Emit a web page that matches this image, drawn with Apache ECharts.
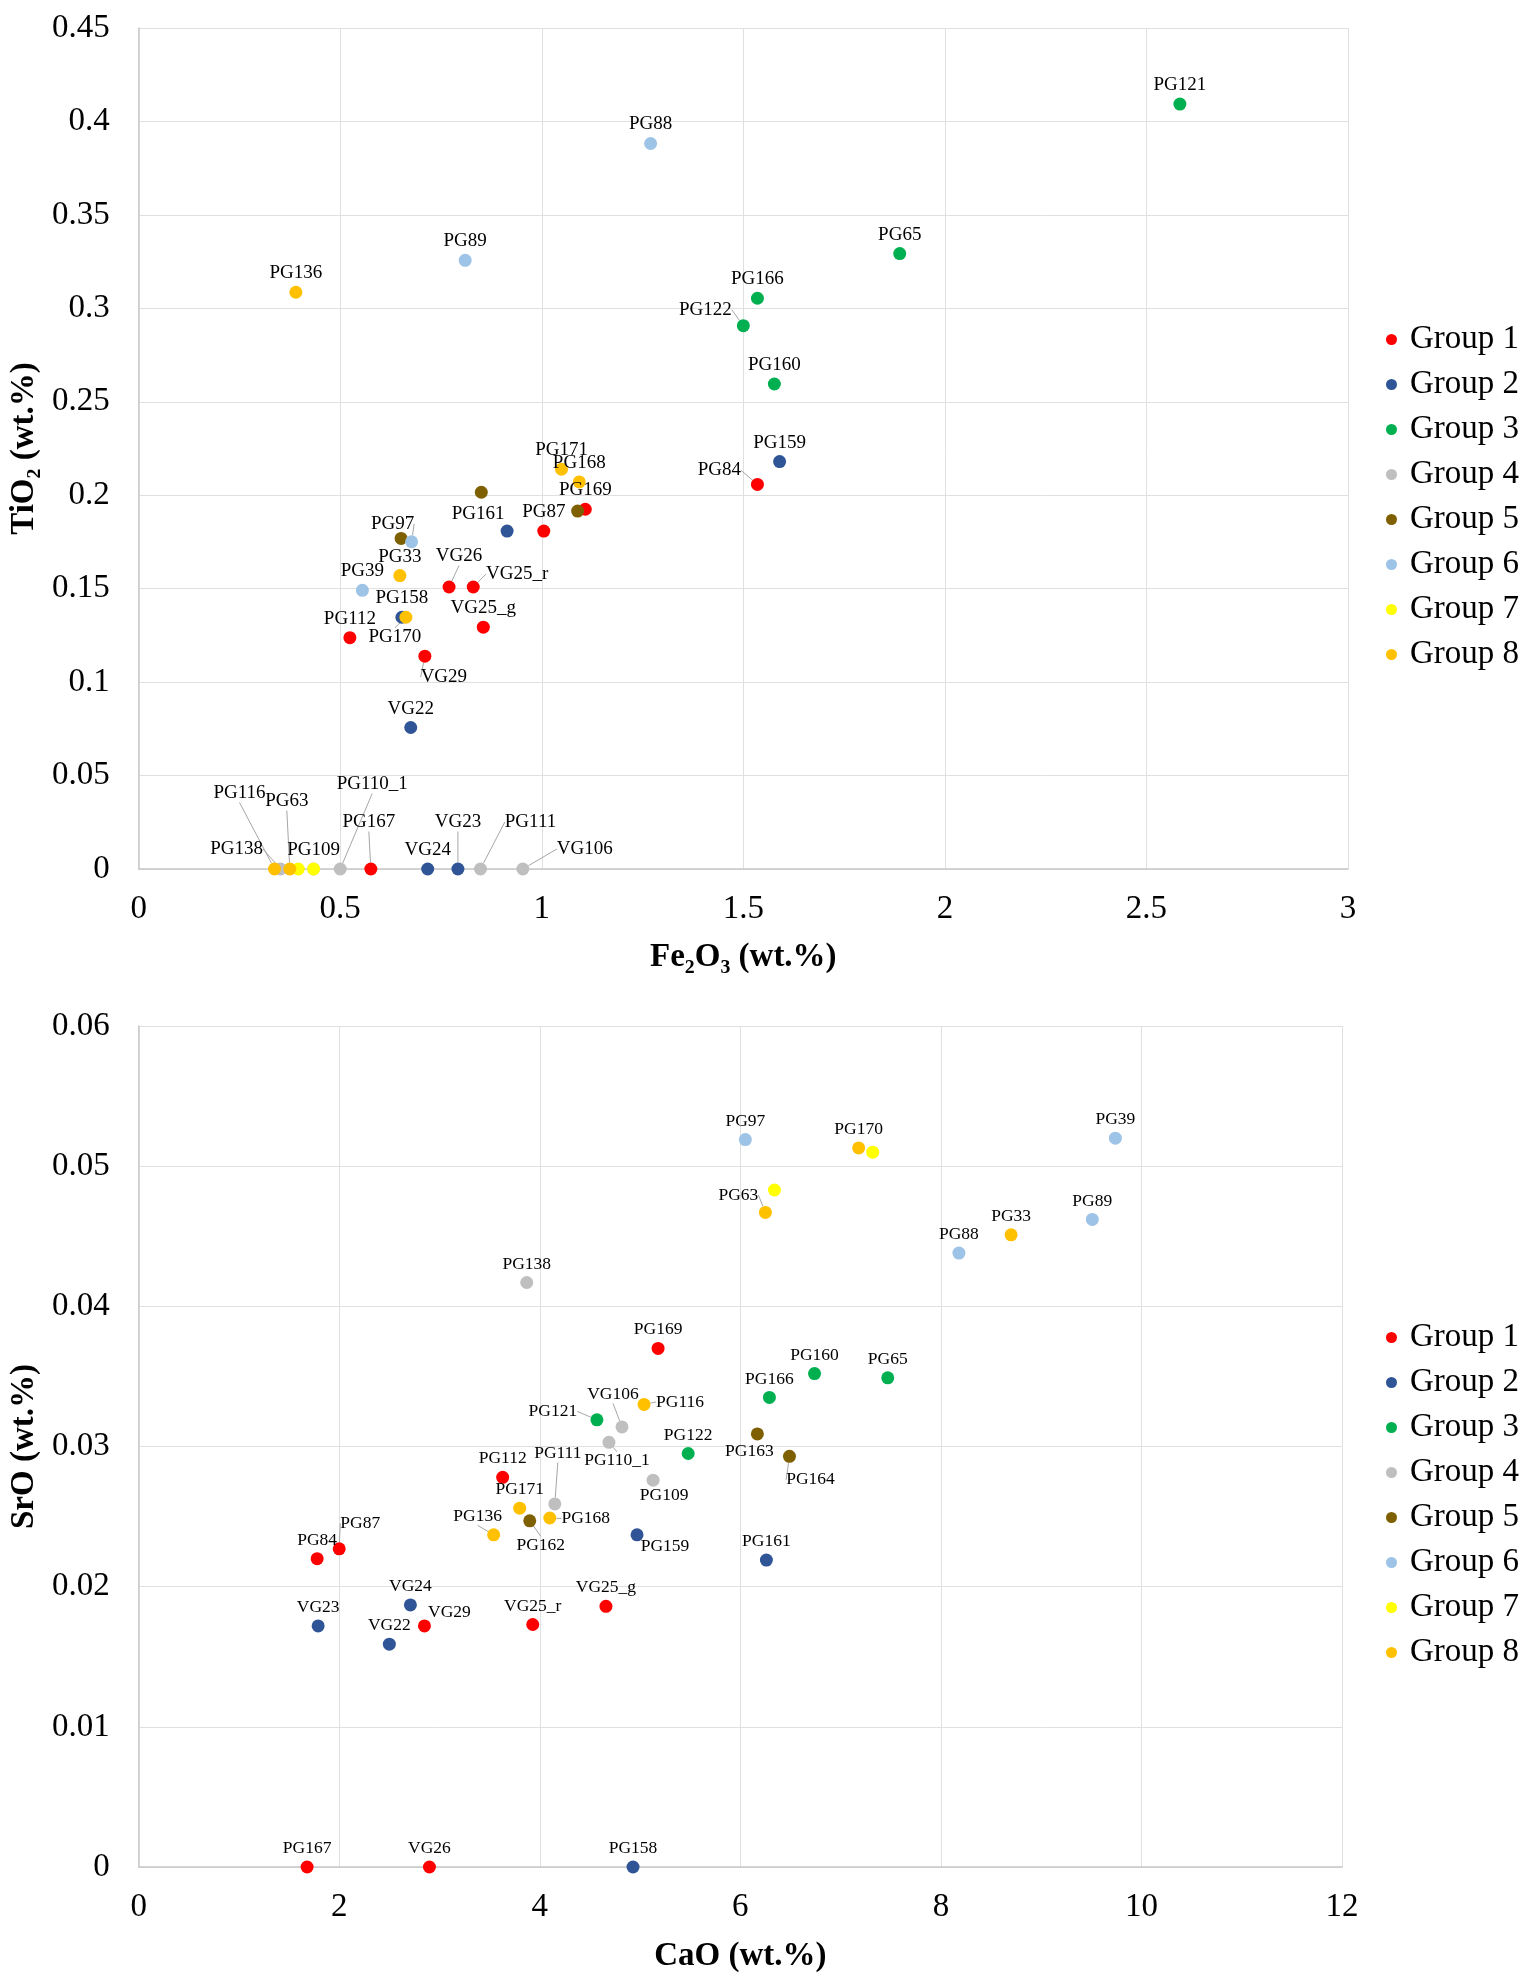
<!DOCTYPE html>
<html>
<head>
<meta charset="utf-8">
<title>Fe2O3-TiO2 / CaO-SrO</title>
<script src="https://cdn.jsdelivr.net/npm/echarts@6/dist/echarts.min.js"></script>
<style>
    html, body { margin: 0; padding: 0; background: #fff; }
    #chart { width: 1534px; height: 1983px; }
</style>
</head>
<body>
<div id="chart"></div>
<script>
// 分组
let groups = ['Group 1', 'Group 2', 'Group 3', 'Group 4', 'Group 5', 'Group 6', 'Group 7', 'Group 8'];

// 样品名, 第7组的两个样品图上没有标注
let samples = [
    'PG169', 'PG112', 'PG84', 'PG87', 'VG29', 'VG25_r', 'VG25_g', 'PG167', 'VG26',
    'VG24', 'VG23', 'VG22', 'PG159', 'PG161', 'PG158',
    'PG160', 'PG65', 'PG166', 'PG121', 'PG122',
    'PG138', 'VG106', 'PG110_1', 'PG111', 'PG109',
    'PG162', 'PG163', 'PG164',
    'PG97', 'PG39', 'PG89', 'PG88',
    '', '',
    'PG170', 'PG63', 'PG33', 'PG116', 'PG171', 'PG168', 'PG136'
];
let sampleGroup = [
    1, 1, 1, 1, 1, 1, 1, 1, 1,
    2, 2, 2, 2, 2, 2,
    3, 3, 3, 3, 3,
    4, 4, 4, 4, 4,
    5, 5, 5,
    6, 6, 6, 6,
    7, 7,
    8, 8, 8, 8, 8, 8, 8
];
let fe2o3 = [
    1.108, 0.524, 1.535, 1.005, 0.710, 0.830, 0.855, 0.576, 0.770,
    0.717, 0.792, 0.675, 1.590, 0.914, 0.653,
    1.577, 1.888, 1.535, 2.583, 1.500,
    0.352, 0.953, 0.500, 0.848, 0.434,
    0.651, 0.850, 1.089,
    0.677, 0.555, 0.810, 1.270,
    0.396, 0.434,
    0.663, 0.375, 0.648, 0.337, 1.049, 1.093, 0.390
];
let tio2 = [
    0.1925, 0.1238, 0.2058, 0.1808, 0.1139, 0.1509, 0.1294, 0, 0.1509,
    0, 0, 0.0757, 0.218, 0.1808, 0.1347,
    0.2595, 0.3293, 0.3054, 0.4093, 0.2907,
    0, 0, 0, 0, 0,
    0.1769, 0.2016, 0.1915,
    0.1751, 0.1491, 0.3257, 0.3882,
    0, 0,
    0.1347, 0, 0.157, 0, 0.2139, 0.2071, 0.3086
];
let cao = [
    5.18, 3.63, 1.78, 2.00, 2.85, 3.93, 4.66, 1.68, 2.90,
    2.71, 1.79, 2.50, 4.97, 6.26, 4.93,
    6.74, 7.47, 6.29, 4.57, 5.48,
    3.87, 4.82, 4.69, 4.15, 5.13,
    3.90, 6.17, 6.49,
    6.05, 9.74, 9.51, 8.18,
    7.32, 6.34,
    7.18, 6.25, 8.70, 5.04, 3.80, 4.10, 3.54
];
let sro = [
    0.0370, 0.0278, 0.0220, 0.0227, 0.0172, 0.0173, 0.0186, 0, 0,
    0.0187, 0.0172, 0.0159, 0.0237, 0.0219, 0,
    0.0352, 0.0349, 0.0335, 0.0319, 0.0295,
    0.0417, 0.0314, 0.0303, 0.0259, 0.0276,
    0.0247, 0.0309, 0.0293,
    0.0519, 0.0520, 0.0462, 0.0438,
    0.0510, 0.0483,
    0.0513, 0.0467, 0.0451, 0.0330, 0.0256, 0.0249, 0.0237
];

let groupColors = ['#ff0000', '#2f5597', '#00b050', '#bfbfbf', '#7f6000', '#9dc3e6', '#ffff00', '#ffc000'];

// 手动挪开的标签 [dx, dy, 是否画引线]
let topShift = {
    'PG161': [-29, 2, 0], 'PG97': [-19, 1, 1], 'VG26': [10, -12, 1], 'VG25_r': [44, 6, 1],
    'PG170': [-11, 39, 1], 'VG29': [19, 40, 1], 'PG84': [-38, 5, 1], 'PG122': [-38, 3, 1],
    'PG116': [-35, -57, 1], 'PG138': [-44, -1, 1], 'PG63': [-3, -49, 1], 'PG110_1': [32, -66, 1],
    'PG167': [-2, -28, 1], 'VG23': [0, -28, 1], 'PG111': [50, -28, 1], 'VG106': [62, -1, 1]
};
let bottomShift = {
    'VG106': [-9, -14, 1], 'PG116': [36, 16, 1], 'PG121': [-44, 10, 1], 'PG163': [-8, 36, 0],
    'PG164': [21, 42, 1], 'PG110_1': [8, 37, 1], 'PG111': [3, -32, 1], 'PG109': [11, 34, 0],
    'PG168': [36, 19, 1], 'PG162': [11, 43, 1], 'PG136': [-16, 0, 1], 'PG159': [28, 30, 0],
    'PG87': [21, -7, 1], 'VG29': [25, 5, 0], 'PG63': [-27, 1, 1]
};
// 上图中第5组没有标签
let topHidden = ['PG162', 'PG163', 'PG164'];

let serif = 'Liberation Serif, Times New Roman, serif';

function makeSeries(gi, xs, ys, shift, hidden, fontSize) {
    return groups.map((g, k) => {
        let idx = [];
        sampleGroup.forEach((v, i) => { if (v === k + 1) idx.push(i); });
        return {
            name: g,
            type: 'scatter',
            xAxisIndex: gi,
            yAxisIndex: gi,
            symbolSize: 13,
            itemStyle: { color: groupColors[k], opacity: 1 },
            label: {
                show: true,
                position: 'top',
                distance: 3,
                formatter: '{b}',
                fontFamily: serif,
                fontSize: fontSize,
                color: '#000'
            },
            labelLine: {
                show: false,
                lineStyle: { color: '#a6a6a6', width: 1 }
            },
            labelLayout: function (p) {
                let s = shift[samples[idx[p.dataIndex]]];
                if (!s) return {};
                return { dx: s[0], dy: s[1] };
            },
            emphasis: { disabled: true },
            data: idx.map(i => {
                let item = { name: samples[i], value: [xs[i], ys[i]] };
                let s = shift[samples[i]];
                if (hidden.indexOf(samples[i]) >= 0) item.label = { show: false };
                if (s && s[2]) item.labelLine = { show: true };
                return item;
            })
        };
    });
}

function axisCommon() {
    return {
        type: 'value',
        axisLine: { show: true, lineStyle: { color: '#c8c8c8', width: 1.5 } },
        axisTick: { show: false },
        splitLine: { show: true, lineStyle: { color: '#e0e0e0', width: 1 } },
        axisLabel: { fontFamily: serif, fontSize: 33, color: '#000' },
        nameLocation: 'middle',
        nameTextStyle: { fontFamily: serif, fontSize: 33, fontWeight: 'bold', color: '#000' }
    };
}

function legendAt(top) {
    return {
        data: groups,
        orient: 'vertical',
        left: 1381,
        top: top,
        icon: 'circle',
        itemWidth: 11,
        itemHeight: 11,
        itemGap: 12,
        textStyle: { fontFamily: serif, fontSize: 33, color: '#000', padding: [0, 0, 0, 8] }
    };
}

let mychart = echarts.init(document.getElementById('chart'));
let options = {
    animation: false,
    backgroundColor: '#fff',
    grid: [
        { left: 137, top: 28, width: 1211, height: 841 },
        { left: 137, top: 1026, width: 1205, height: 841 }
    ],
    legend: [legendAt(318), legendAt(1316)],
    xAxis: [
        Object.assign(axisCommon(), { gridIndex: 0, min: 0, max: 3, interval: 0.5, name: 'Fe₂O₃ (wt.%)', nameGap: 72, axisLabel: { fontFamily: serif, fontSize: 33, color: '#000', margin: 24 } }),
        Object.assign(axisCommon(), { gridIndex: 1, min: 0, max: 12, interval: 2, name: 'CaO (wt.%)', nameGap: 73, axisLabel: { fontFamily: serif, fontSize: 33, color: '#000', margin: 24 } })
    ],
    yAxis: [
        Object.assign(axisCommon(), { gridIndex: 0, min: 0, max: 0.45, interval: 0.05, name: 'TiO₂ (wt.%)', nameGap: 87, axisLabel: { fontFamily: serif, fontSize: 33, color: '#000', margin: 29 } }),
        Object.assign(axisCommon(), { gridIndex: 1, min: 0, max: 0.06, interval: 0.01, name: 'SrO (wt.%)', nameGap: 87, axisLabel: { fontFamily: serif, fontSize: 33, color: '#000', margin: 29 } })
    ],
    series: makeSeries(0, fe2o3, tio2, topShift, topHidden, 19)
        .concat(makeSeries(1, cao, sro, bottomShift, [], 17.5))
};
mychart.setOption(options);
</script>
</body>
</html>
